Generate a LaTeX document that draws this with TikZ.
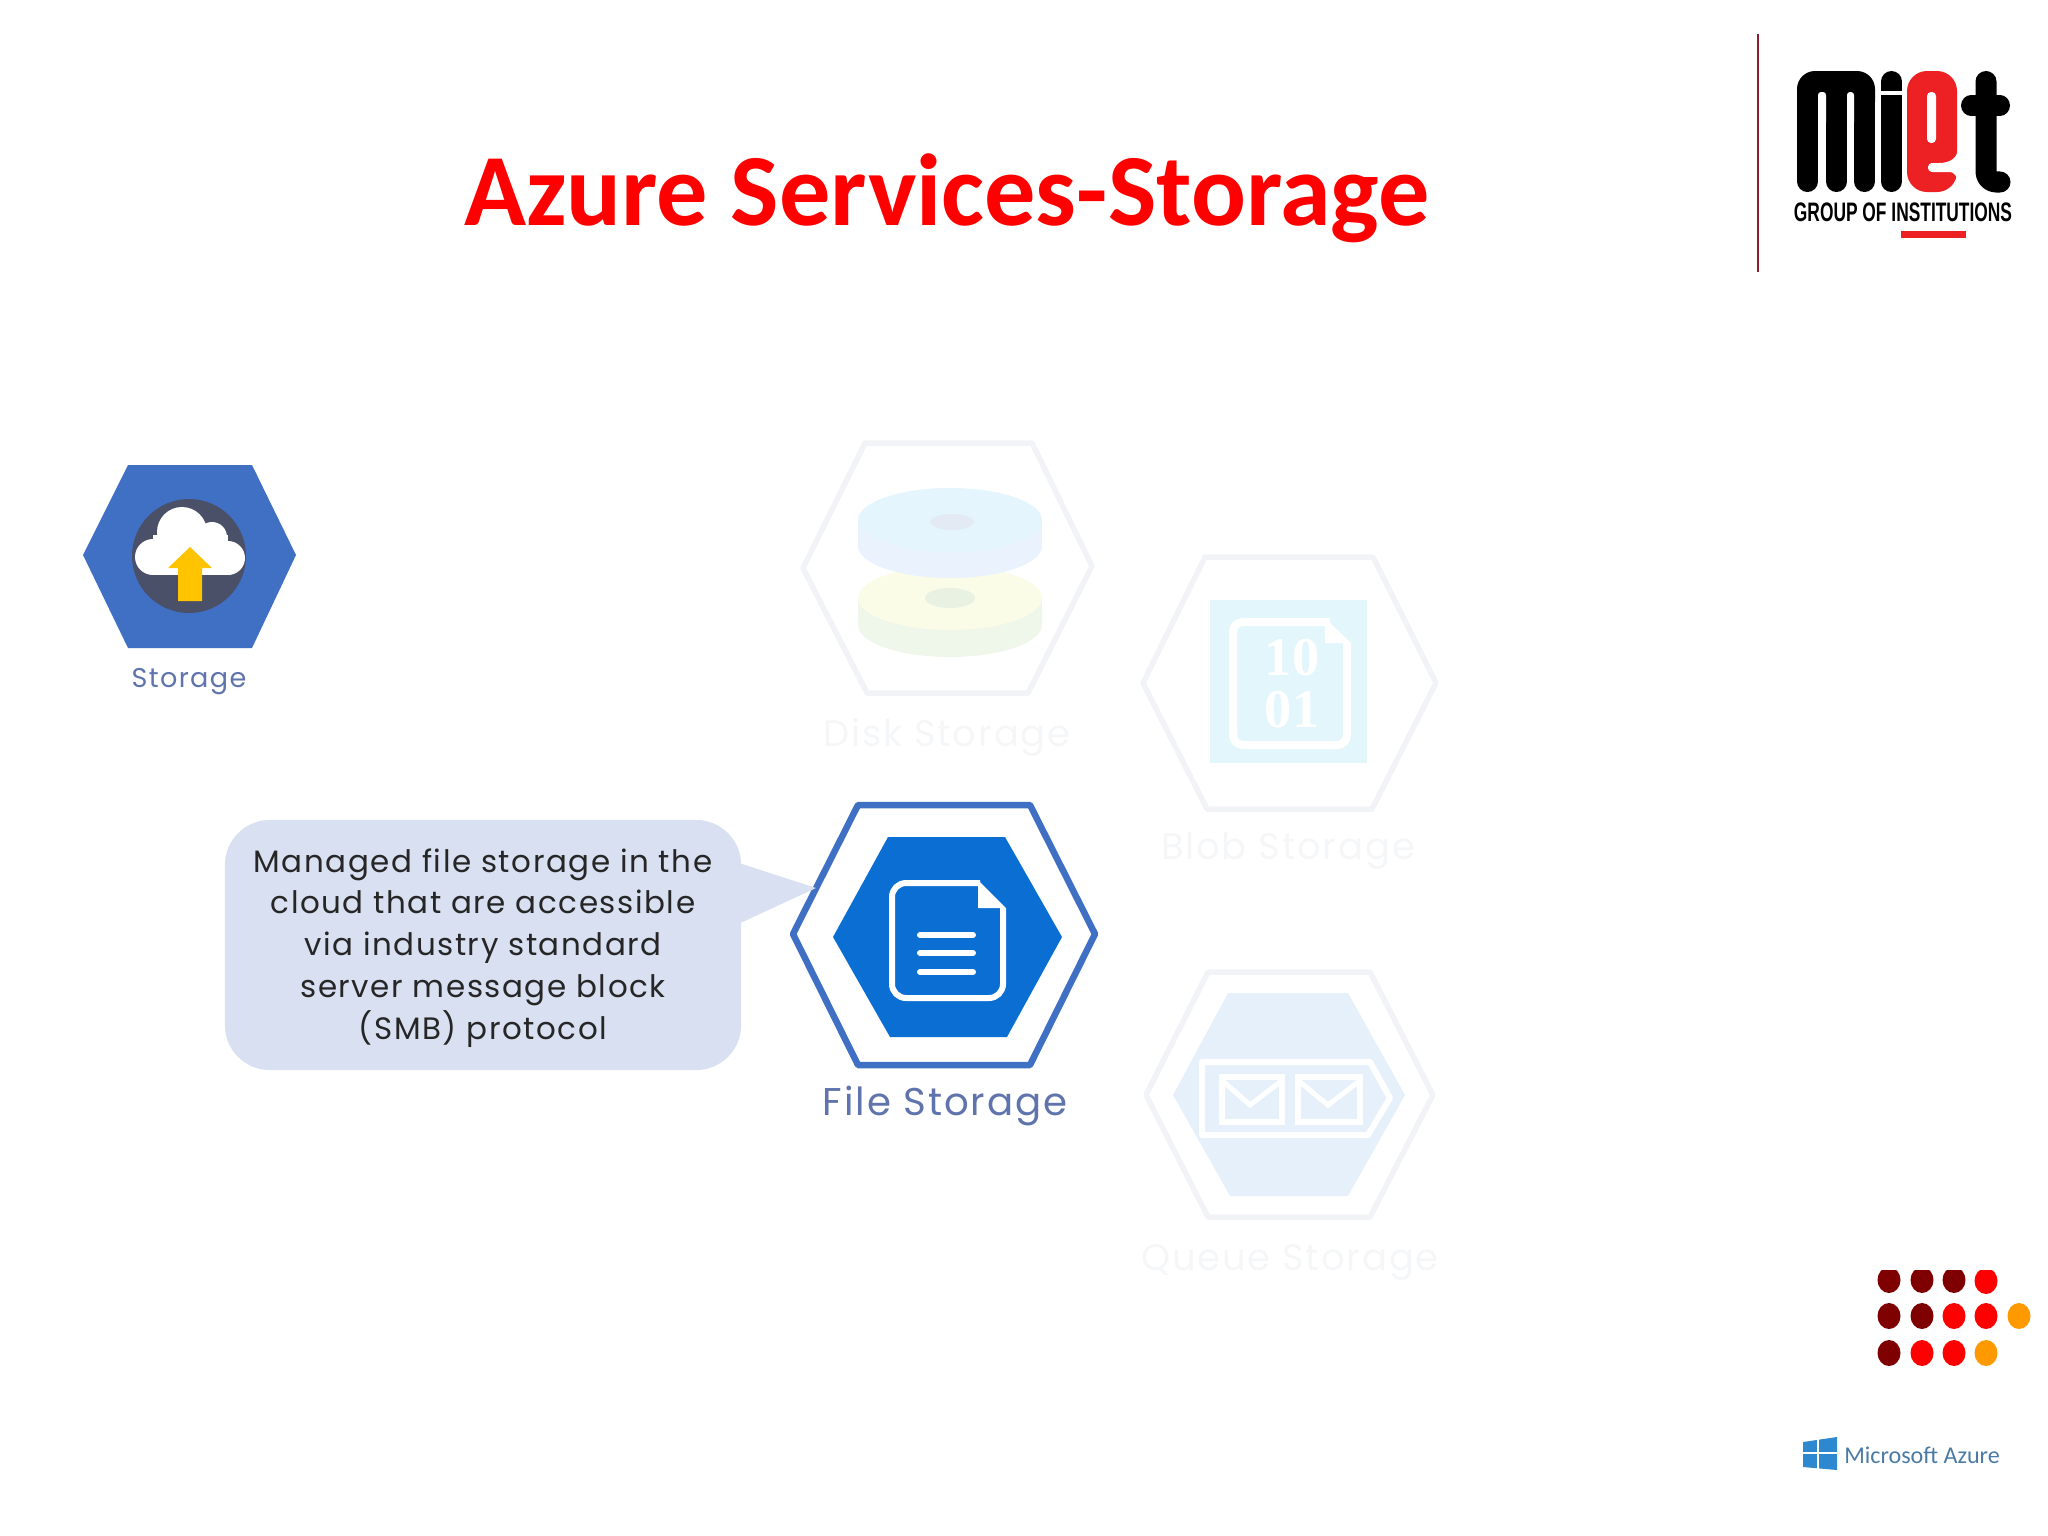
\documentclass[tikz,border=0pt]{standalone}
\usepackage{fontspec}
\usepackage{tikz}
\setmainfont{Carlito}
\newfontfamily\iconfont[LetterSpace=5]{Poppins}
\newfontfamily\logofont{Liberation Sans}
\newfontfamily\digitfont{Liberation Serif}
\definecolor{titlered}{HTML}{FF0000}
\definecolor{rulered}{HTML}{8E1B2E}
\definecolor{logored}{HTML}{ED2024}
\definecolor{hexblue}{HTML}{4070C4}
\definecolor{fileblue}{HTML}{0A6ED3}
\definecolor{labelblue}{HTML}{5F74AC}
\definecolor{bubblefill}{HTML}{D9E0F1}
\definecolor{fadeline}{HTML}{F2F3F7}
\definecolor{fadetext}{HTML}{F5F6F8}
\definecolor{circlegray}{HTML}{4A5068}
\definecolor{arrowgold}{HTML}{FFC400}
\definecolor{diskblue}{HTML}{E4F5FD}
\definecolor{diskblueside}{HTML}{E9F2FD}
\definecolor{diskyellow}{HTML}{FAFCE8}
\definecolor{diskyellowside}{HTML}{EFF6EA}
\definecolor{holeblue}{HTML}{E4EAF3}
\definecolor{holegreen}{HTML}{E8F1E2}
\definecolor{blobcyan}{HTML}{E3F6FC}
\definecolor{queueblue}{HTML}{E6F0FB}
\definecolor{dotdark}{HTML}{7F0000}
\definecolor{dotred}{HTML}{FF0000}
\definecolor{dotorange}{HTML}{FF9900}
\definecolor{winblue}{HTML}{2D88CF}
\definecolor{azuretext}{HTML}{4A7BA6}

\begin{document}
\begin{tikzpicture}[
    x=0.01cm, y=-0.01cm,
    hexline/.style={line width=0.065cm, line join=round},
    fadehex/.style={draw=fadeline, line width=0.055cm, line join=round},
    hexlabel/.style={font=\iconfont\fontsize{11}{13}\selectfont, text=labelblue, inner sep=0pt},
    fadelabel/.style={font=\iconfont\fontsize{10.5}{12}\selectfont, text=fadetext, inner sep=0pt},
    bubble/.style={fill=bubblefill, rounded corners=0.45cm, minimum width=5.16cm, minimum height=2.5cm, inner sep=0pt},
    limb/.style={line width=0.21cm, line cap=round, line join=round}
]
\useasboundingbox (0,0) rectangle (2048,1536);

% Title
\node[font=\bfseries\fontsize{29.1}{32}\selectfont, text=titlered, inner sep=0pt] (title) at (947,198) {Azure Services-Storage};

% Logo
\coordinate (ruletop) at (1758,34);
\coordinate (rulebot) at (1758,272);
\draw[rulered, line width=0.025cm] (ruletop) -- (rulebot);
\fill[black, rounded corners=0.18cm] (1797,71) rectangle (1875,120);
\draw[black, limb] (1807.5,100) -- (1807.5,181.5);
\draw[black, limb] (1836.5,100) -- (1836.5,181.5);
\draw[black, limb] (1864.5,100) -- (1864.5,181.5);
\fill[white, rounded corners=0.03cm] (1818,92) rectangle (1826,125);
\fill[white, rounded corners=0.03cm] (1847,92) rectangle (1854,125);
\draw[black, limb] (1891.5,81.5) -- (1891.5,181.5);
\fill[white] (1879,91) rectangle (1904,95);
\fill[logored, rounded corners=0.2cm] (1907,71) rectangle (1957,192);
\fill[white, rounded corners=0.04cm] (1927,92) rectangle (1936,143);
\fill[white, rounded corners=0.04cm] (1958,146) .. controls (1957,158) and (1950,163) .. (1935,163) -- (1928,163) -- (1928,172) -- (1946,172) .. controls (1953,172) and (1957,176) .. (1957,183) -- (1959,183) -- cycle;
\draw[black, limb, rounded corners=0.1cm] (1986,81.5) -- (1986,182) -- (2000,182);
\draw[black, limb, line width=0.2cm] (1971,105.5) -- (2000,105.5);
\node[font=\logofont\bfseries\fontsize{7.6}{9}\selectfont, inner sep=0pt] (group) at (1903,212.5) {\scalebox{0.65}[1]{GROUP OF INSTITUTIONS}};
\fill[logored] (1901,231) rectangle (1966,238);

% Storage icon
\fill[hexblue] (83,555) -- (128,465) -- (252,465) -- (296,555) -- (252,648) -- (128,648) -- cycle;
\fill[circlegray] (189,556) circle (57);
\fill[white] (182,532) circle (25);
\fill[white] (212,537) circle (15);
\fill[white] (228,558) circle (17);
\fill[white] (153,557) circle (18);
\fill[white] (153,535) rectangle (228,575);
\fill[arrowgold] (190,547) -- (212,568) -- (202,568) -- (202,601) -- (178,601) -- (178,568) -- (168,568) -- cycle;
\node[hexlabel, font=\iconfont\fontsize{7.7}{10}\selectfont] (storage) at (189,682) {Storage};

% Faded icons
\draw[fadehex] (803,568) -- (865,443) -- (1032,443) -- (1092,566) -- (1028,693) -- (867,693) -- cycle;
\fill[diskyellowside] (950,625) ellipse (92 and 32);
\fill[diskyellowside] (858,598) rectangle (1042,625);
\fill[diskyellow] (950,598) ellipse (92 and 32);
\fill[holegreen] (950,598) ellipse (25 and 10);
\fill[diskblueside] (950,546) ellipse (92 and 32);
\fill[diskblueside] (858,520) rectangle (1042,546);
\fill[diskblue] (950,520) ellipse (92 and 32);
\fill[holeblue] (952,522) ellipse (22 and 8);
\node[fadelabel] (disk) at (947,737) {Disk Storage};

\draw[fadehex] (1143,683) -- (1205,557) -- (1373,557) -- (1436,683) -- (1372,809) -- (1207,809) -- cycle;
\fill[blobcyan] (1210,600) rectangle (1367,763);
\draw[white, line width=0.08cm, rounded corners=0.1cm] (1330,622) -- (1233,622) -- (1233,745) -- (1347,745) -- (1347,643);
\fill[white] (1325,618) -- (1351,643) -- (1325,643) -- cycle;
\node[font=\digitfont\bfseries\fontsize{15.5}{16}\selectfont, text=white, inner sep=0pt] (blobtop) at (1292,658) {10};
\node[font=\digitfont\bfseries\fontsize{15.5}{16}\selectfont, text=white, inner sep=0pt] (blobbot) at (1292,710) {01};
\node[fadelabel] (blob) at (1288,851) {Blob Storage};

\draw[fadehex] (1146,1095) -- (1208,972) -- (1370,972) -- (1433,1095) -- (1370,1217) -- (1208,1217) -- cycle;
\fill[queueblue] (1173,1095) -- (1228,993) -- (1348,993) -- (1405,1095) -- (1348,1196) -- (1230,1196) -- cycle;
\draw[white, line width=0.06cm, line join=round] (1202,1062) -- (1370,1062) -- (1390,1098) -- (1368,1135) -- (1202,1135) -- cycle;
\draw[white, line width=0.06cm] (1222,1077) rectangle (1282,1122);
\draw[white, line width=0.05cm] (1224,1082) -- (1250,1105) -- (1280,1082);
\draw[white, line width=0.06cm] (1298,1077) rectangle (1360,1122);
\draw[white, line width=0.05cm] (1300,1082) -- (1328,1105) -- (1358,1082);
\node[fadelabel] (queue) at (1290,1262) {Queue Storage};

% File storage icon
\draw[hexblue, hexline] (793,934) -- (858,805) -- (1030,805) -- (1095,934) -- (1030,1065) -- (858,1065) -- cycle;
\fill[fileblue] (833,937) -- (888,837) -- (1005,837) -- (1062,937) -- (1007,1037) -- (890,1037) -- cycle;
\draw[white, line width=0.06cm, rounded corners=0.14cm] (980,883) -- (892,883) -- (892,998) -- (1003,998) -- (1003,908);
\fill[white] (978,880) -- (1006,908) -- (978,908) -- cycle;
\draw[white, line width=0.06cm, line cap=round] (920,935) -- (973,935);
\draw[white, line width=0.06cm, line cap=round] (920,953) -- (973,953);
\draw[white, line width=0.06cm, line cap=round] (920,972) -- (973,972);
\node[hexlabel] (file) at (945,1106) {File Storage};

% Callout
\coordinate (tailtop) at (736,862);
\coordinate (tailtip) at (816,888);
\coordinate (tailbot) at (736,925);
\fill[bubblefill] (tailtop) -- (tailtip) -- (tailbot) -- cycle;
\node[bubble] (note) at (483,945) {};
\node[font=\iconfont\fontsize{8.8}{11.9}\selectfont, text=black!85, align=center, inner sep=0pt] (notetext) at (483,948) {Managed file storage in the\\cloud that are accessible\\via industry standard\\server message block\\(SMB) protocol};

% Dots
\begin{scope}
\clip (1860,1270) rectangle (2048,1400);
\fill[dotdark] (1889,1280) ellipse (11.5 and 13);
\fill[dotdark] (1922,1280) ellipse (11.5 and 13);
\fill[dotdark] (1954,1280) ellipse (11.5 and 13);
\fill[dotred] (1986,1281) ellipse (11.5 and 13);
\end{scope}
\fill[dotdark] (1889,1316) ellipse (11.5 and 13);
\fill[dotdark] (1922,1316) ellipse (11.5 and 13);
\fill[dotred] (1954,1316) ellipse (11.5 and 13);
\fill[dotred] (1986,1316) ellipse (11.5 and 13);
\fill[dotorange] (2019,1316) ellipse (11.5 and 13);
\fill[dotdark] (1889,1353) ellipse (11.5 and 13);
\fill[dotred] (1922,1353) ellipse (11.5 and 13);
\fill[dotred] (1954,1353) ellipse (11.5 and 13);
\fill[dotorange] (1986,1353) ellipse (11.5 and 13);

% Azure mark
\fill[winblue] (1803,1442) -- (1837,1437) -- (1837,1470) -- (1803,1467) -- cycle;
\draw[white, line width=0.012cm] (1818,1438) -- (1818,1470);
\draw[white, line width=0.012cm] (1803,1453) -- (1837,1453);
\node[font=\fontsize{6.85}{8}\selectfont, text=azuretext, inner sep=0pt] (azure) at (1922,1455) {Microsoft Azure};
\end{tikzpicture}
\end{document}
